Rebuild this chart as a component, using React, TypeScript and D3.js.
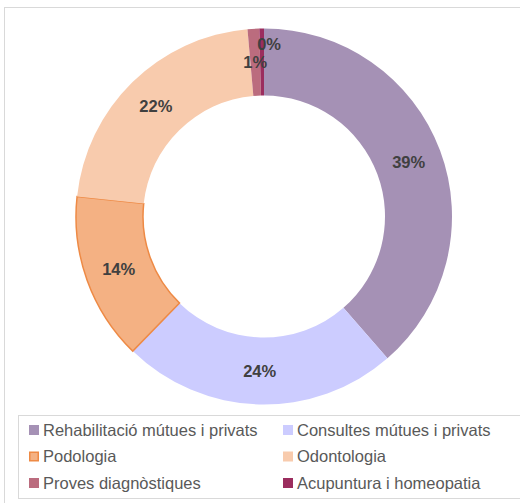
import React, { useEffect, useRef } from "react";
import * as d3 from "d3";

const categories = [
  "Rehabilitació mútues i privats",
  "Consultes mútues i privats",
  "Podologia",
  "Odontologia",
  "Proves diagnòstiques",
  "Acupuntura i homeopatia",
];
const values = [38.6, 23.7, 14.4, 21.9, 1.0, 0.4];
const colors = ["#a591b5", "#ccccff", "#f4b183", "#f8cbad", "#bb6c7e", "#9b2d5e"];
const strokes = ["none", "none", "#ee8a45", "none", "none", "none"];
// Excel nudged the tiny "0%" label so it would not overlap "1%"
const labelNudge = [[0, 0], [0, 0], [0, 0], [0, 0], [0, 0], [7, -18]];

const W = 520;
const H = 503;

export default function App() {
  const ref = useRef<SVGSVGElement>(null);

  useEffect(() => {
    const svg = d3.select(ref.current);
    svg.selectAll("*").remove();

    // chart frame and legend box
    svg.append("rect").attr("x", 4.5).attr("y", 7.5).attr("width", 530).attr("height", 510)
      .attr("fill", "#fff").attr("stroke", "#d9d9d9");
    svg.append("rect").attr("x", 18.5).attr("y", 415.5).attr("width", 520).attr("height", 83)
      .attr("fill", "none").attr("stroke", "#d9d9d9");

    const cx = 264, cy = 216.5, R = 188, r = 121;
    const total = d3.sum(values);
    const pie = d3.pie<number>().sort(null).value((d) => d);
    const arcs = pie(values);
    const arc = d3.arc<d3.PieArcDatum<number>>().innerRadius(r).outerRadius(R);

    const g = svg.append("g").attr("transform", `translate(${cx},${cy})`);
    g.selectAll("path.slice")
      .data(arcs)
      .enter()
      .append("path")
      .attr("class", "slice")
      .attr("d", (d) => arc(d) as string)
      .attr("fill", (d, i) => colors[i])
      .attr("stroke", (d, i) => strokes[i])
      .attr("stroke-width", 1.5);

    g.selectAll("text.lbl")
      .data(arcs)
      .enter()
      .append("text")
      .attr("class", "lbl")
      .attr("x", (d, i) => arc.centroid(d)[0] + labelNudge[i][0])
      .attr("y", (d, i) => arc.centroid(d)[1] + labelNudge[i][1])
      .attr("dy", "0.36em")
      .attr("text-anchor", "middle")
      .attr("font-family", "Liberation Sans, Arial, sans-serif")
      .attr("font-size", 16.5)
      .attr("font-weight", "bold")
      .attr("fill", "#404040")
      .text((d) => `${Math.round((d.value / total) * 100)}%`);

    // legend, two columns
    const col = d3.scaleOrdinal<number, number>().domain([0, 1]).range([29, 283]);
    const row = d3.scaleLinear().domain([0, 2]).range([430, 483]);
    const maxText = 220; // text squeezed to fit its column
    const items = svg.selectAll("g.leg")
      .data(categories)
      .enter()
      .append("g")
      .attr("class", "leg")
      .attr("transform", (d, i) => `translate(${col(i % 2)},${row(Math.floor(i / 2))})`);
    items.append("rect")
      .attr("x", (d, i) => (strokes[i] !== "none" ? 0.75 : 0))
      .attr("y", (d, i) => (strokes[i] !== "none" ? -4.25 : -5))
      .attr("width", (d, i) => (strokes[i] !== "none" ? 8.5 : 10))
      .attr("height", (d, i) => (strokes[i] !== "none" ? 8.5 : 10))
      .attr("fill", (d, i) => colors[i])
      .attr("stroke", (d, i) => strokes[i])
      .attr("stroke-width", 1.5);
    items.append("text")
      .attr("x", 14)
      .attr("dy", "0.36em")
      .attr("font-family", "Liberation Sans, Arial, sans-serif")
      .attr("font-size", 16.5)
      .attr("fill", "#595959")
      .text((d) => d)
      .each(function () {
        const t = this as SVGTextElement;
        if (t.getComputedTextLength() > maxText) {
          t.setAttribute("textLength", String(maxText));
          t.setAttribute("lengthAdjust", "spacingAndGlyphs");
        }
      });
  }, []);

  return (
    <svg
      ref={ref}
      width={W}
      height={H}
      style={{ position: "absolute", left: 0, top: 0, background: "#fff" }}
    />
  );
}
